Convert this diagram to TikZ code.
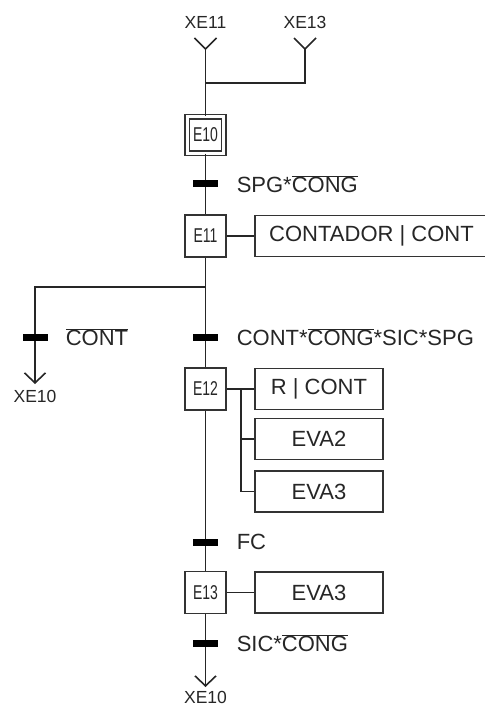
\documentclass[tikz,border=0pt]{standalone}
\usepackage{fontspec}
\setmainfont{Liberation Sans}
\usetikzlibrary{arrows.meta}
\newcommand\ovl[1]{$\overline{\hbox{#1}}$}
\newcommand\stp[1]{\scalebox{0.7}[1]{#1}}
\begin{document}
\begin{tikzpicture}[x=1pt,y=-1pt, line width=1.5pt,
  every node/.style={text=black!85},
  stepbox/.style={draw=black!80, minimum width=41pt, minimum height=42pt, inner sep=0pt, font=\fontsize{20}{20}\selectfont},
  initbox/.style={draw=black!80, line width=1.3pt, double, double distance=3.2pt, minimum width=36.5pt, minimum height=36.5pt, inner sep=0pt, font=\fontsize{20}{20}\selectfont},
  actbox/.style={draw=black!80, minimum height=41pt, inner sep=0pt, font=\fontsize{22}{22}\selectfont},
  bar/.style={fill=black, minimum width=25pt, minimum height=7pt, inner sep=0pt},
  cond/.style={anchor=west, inner sep=0pt, font=\fontsize{22}{22}\selectfont},
  ext/.style={font=\fontsize{17.5}{17.5}\selectfont, inner sep=0pt},
  link/.style={draw=black!85, line width=1.6pt},
  tip/.style={-{Straight Barb[length=10pt,width=21pt]}}
]
\useasboundingbox (0,0) rectangle (484,708);
% external references
\node[ext] (x11) at (205.5,22) {XE11};
\node[ext] (x13) at (305,22) {XE13};
\coordinate (t11) at (205.5,49);
\coordinate (t13) at (305,49);
\coordinate (j1) at (205.5,83);
% steps
\node[initbox] (E10) at (205.5,135) {\stp{E10}};
\node[bar] (T1) at (205.5,184) {};
\node[cond] (c1) at (236,184) {SPG*\ovl{CONG}};
\node[stepbox] (E11) at (205.5,236) {\stp{E11}};
\node[actbox, minimum width=233pt] (A11) at (371.5,236) {CONTADOR | CONT};
\coordinate (d1) at (205.5,287);
\coordinate (d2) at (35,287);
\node[bar] (T2) at (35,337) {};
\node[cond] (c2) at (65,337) {\ovl{CONT}};
\coordinate (t2) at (35,384);
\node[ext] (x10a) at (35,396) {XE10};
\node[bar] (T3) at (205.5,337) {};
\node[cond] (c3) at (236,337) {CONT*\ovl{CONG}*SIC*SPG};
\node[stepbox] (E12) at (205.5,389) {\stp{E12}};
\node[actbox, minimum width=128pt] (A12a) at (319,389) {R | CONT};
\node[actbox, minimum width=128pt] (A12b) at (319,439) {EVA2};
\node[actbox, minimum width=128pt] (A12c) at (319,491.5) {EVA3};
\coordinate (b12) at (241,389);
\node[bar] (T4) at (205.5,542) {};
\node[cond] (c4) at (236,542) {FC};
\node[stepbox] (E13) at (205.5,592.5) {\stp{E13}};
\node[actbox, minimum width=128pt] (A13) at (319,592.5) {EVA3};
\node[bar] (T5) at (205.5,643) {};
\node[cond] (c5) at (236,643) {SIC*\ovl{CONG}};
\coordinate (t5) at (205.5,687);
\node[ext] (x10b) at (205.5,697) {XE10};
% links
\draw[link] (t11) ++(-11,-11) -- (t11) -- ++(11,-11);
\draw[link] (t13) ++(-11,-11) -- (t13) -- ++(11,-11);
\draw[link] (t11) -- (E10);
\draw[link] (t13) |- (j1);
\draw[link] (E10) -- (E11);
\draw[link] (E11) -- (A11);
\draw[link] (E11) -- (d1) -- (E12);
\draw[link, tip] (d1) -- (d2) -- (t2);
\draw[link] (E12) -- (A12a);
\draw[link] (b12) |- (A12b.west);
\draw[link] (b12) |- (A12c.west);
\draw[link] (E12) -- (E13);
\draw[link] (E13) -- (A13);
\draw[link, tip] (E13) -- (t5);
% bars on top
\node[bar] at (T1) {};
\node[bar] at (T2) {};
\node[bar] at (T3) {};
\node[bar] at (T4) {};
\node[bar] at (T5) {};
\end{tikzpicture}
\end{document}
